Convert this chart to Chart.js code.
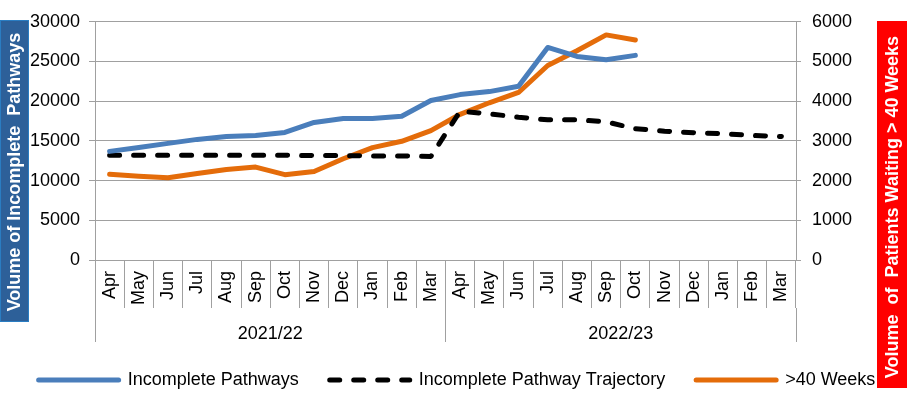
<!DOCTYPE html>
<html>
<head>
<meta charset="utf-8">
<script src="https://cdn.jsdelivr.net/npm/chart.js@4"></script>
<style>
html, body { margin: 0; padding: 0; background: #fff; }
</style>
</head>
<body>
<canvas id="chart" width="914" height="397"></canvas>
<script>
// chart data
const months = ['Apr','May','Jun','Jul','Aug','Sep','Oct','Nov','Dec','Jan','Feb','Mar'];
const years = ['2021/22', '2022/23'];
const monthLabels = months.concat(months);

// left axis
const incompletePathways = [13680, 14180, 14690, 15190, 15560, 15690, 16070, 17320, 17820, 17820, 18100, 20080,
                            20830, 21210, 21880, 26770, 25640, 25230, 25770, null, null, null, null, null];
const trajectory = [13200, 13200, 13200, 13200, 13200, 13200, 13200, 13150, 13150, 13100, 13100, 13050,
                    18740, 18410, 17990, 17660, 17660, 17410, 16530, 16230, 16030, 15900, 15690, 15560];
// right axis
const over40Weeks = [2160, 2110, 2070, 2180, 2280, 2340, 2150, 2230, 2550, 2830, 2990, 3260,
                     3670, 3960, 4220, 4900, 5270, 5670, 5540, null, null, null, null, null];

const GRID = '#A0A0A0';
Chart.defaults.font.family = "'Liberation Sans', Arial, sans-serif";
Chart.defaults.font.size = 18;
Chart.defaults.color = '#000';

// coloured boxes with the axis titles
const sideTitles = {
    id: 'sideTitles',
    afterDraw(chart) {
        const c = chart.ctx;
        c.save();
        c.fillStyle = '#2D6099';
        c.fillRect(0, 20, 29, 302);
        c.strokeStyle = '#2A7DC2';
        c.lineWidth = 1;
        c.strokeRect(0.5, 20.5, 28, 301);
        c.fillStyle = '#FF0000';
        c.fillRect(877, 21, 30, 367);

        c.fillStyle = '#fff';
        c.font = "bold 18px 'Liberation Sans', Arial, sans-serif";
        c.textAlign = 'center';
        c.textBaseline = 'middle';
        c.translate(15, 172);
        c.rotate(-Math.PI / 2);
        c.fillText('Volume of Incomplete  Pathways', 0, 0);
        c.restore();

        c.save();
        c.fillStyle = '#fff';
        c.font = "bold 18px 'Liberation Sans', Arial, sans-serif";
        c.textAlign = 'center';
        c.textBaseline = 'middle';
        c.translate(893, 207);
        c.rotate(-Math.PI / 2);
        c.fillText('Volume  of  Patients Waiting > 40 Weeks', 0, 0);
        c.restore();
    }
};

const chart = new Chart(document.getElementById('chart'), {
    type: 'line',
    data: {
        labels: monthLabels,
        datasets: [
            {
                label: 'Incomplete Pathways',
                data: incompletePathways,
                borderColor: '#4A7EBB',
                backgroundColor: '#4A7EBB',
                borderWidth: 5,
                borderCapStyle: 'round',
                borderJoinStyle: 'round',
                pointRadius: 0,
                tension: 0,
                yAxisID: 'y'
            },
            {
                label: 'Incomplete Pathway Trajectory',
                data: trajectory,
                borderColor: '#000',
                backgroundColor: '#000',
                borderWidth: 5,
                borderDash: [10, 14],
                borderCapStyle: 'round',
                borderJoinStyle: 'round',
                pointRadius: 0,
                tension: 0,
                yAxisID: 'y'
            },
            {
                label: '>40 Weeks',
                data: over40Weeks,
                borderColor: '#E46C0A',
                backgroundColor: '#E46C0A',
                borderWidth: 5,
                borderCapStyle: 'round',
                borderJoinStyle: 'round',
                pointRadius: 0,
                tension: 0,
                yAxisID: 'y1'
            }
        ]
    },
    options: {
        responsive: false,
        animation: false,
        devicePixelRatio: 1,
        layout: { padding: { top: 21 } },
        plugins: {
            tooltip: { enabled: false },
            legend: {
                position: 'bottom',
                maxHeight: 57,
                labels: {
                    usePointStyle: true,
                    pointStyle: 'line',
                    pointStyleWidth: 80,
                    padding: 31,
                    color: '#000',
                    font: { size: 18 },
                    // point style loses the dash, put it back
                    generateLabels(chart) {
                        const items = Chart.defaults.plugins.legend.labels.generateLabels(chart);
                        items.forEach((it) => {
                            it.lineDash = chart.data.datasets[it.datasetIndex].borderDash || [];
                            it.lineCap = 'round';
                        });
                        return items;
                    }
                }
            }
        },
        scales: {
            x: {
                type: 'category',
                offset: true,
                grid: { offset: true, drawOnChartArea: false, tickLength: 48, color: GRID },
                border: { color: GRID },
                ticks: { minRotation: 90, maxRotation: 90, autoSkip: false, padding: -37 },
                afterFit(s) { s.height = 48; }
            },
            x2: {
                type: 'category',
                labels: years,
                position: 'bottom',
                weight: 1,
                offset: true,
                grid: { offset: true, drawOnChartArea: false, tickLength: 34, color: GRID },
                border: { display: false },
                ticks: { padding: -19, maxRotation: 0 },
                afterFit(s) { s.height = 32; }
            },
            y: {
                position: 'left',
                min: 0,
                max: 30000,
                ticks: { stepSize: 5000, padding: 9, callback: v => String(v) },
                grid: { color: GRID, tickLength: 6 },
                border: { color: GRID },
                afterFit(s) { s.width = 95; }
            },
            y1: {
                position: 'right',
                min: 0,
                max: 6000,
                ticks: { stepSize: 1000, padding: 11, callback: v => String(v) },
                grid: { drawOnChartArea: false, color: GRID, tickLength: 5 },
                border: { color: GRID },
                afterFit(s) { s.width = 118; }
            }
        }
    },
    plugins: [sideTitles]
});
</script>
</body>
</html>
